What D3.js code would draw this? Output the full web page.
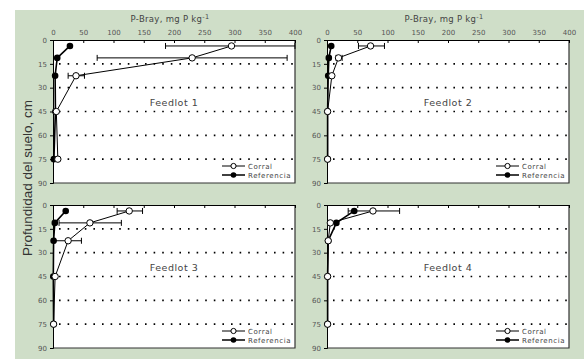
<!DOCTYPE html>
<html>
<head>
<meta charset="utf-8">
<script src="https://cdn.jsdelivr.net/npm/d3@7"></script>
<style>
  body { margin: 0; background: #fff; }
  svg { display: block; }
  text { font-family: "DejaVu Sans", Verdana, sans-serif; fill: #444; }
</style>
</head>
<body>
<svg id="chart"></svg>
<script>
// depths (cm) at centre of each sampled layer
const depths = [3.75, 11.25, 22.5, 45, 75];
const depthTicks = [0, 15, 30, 45, 60, 75, 90];
const pTicks = [0, 50, 100, 150, 200, 250, 300, 350, 400];
const feedlots = ["Feedlot 1", "Feedlot 2", "Feedlot 3", "Feedlot 4"];

// P-Bray, mg P/kg
const corral1 = [295, 230, 38, 5.5, 8];
const corralLo1 = [186, 73, 25, null, null];
const corralHi1 = [400, 387, 52, null, null];
const ref1 = [28, 7, 3.5, 4, 1.5];

const corral2 = [72, 19, 8, 1, 1];
const corralLo2 = [52, 15, null, null, null];
const corralHi2 = [95, 25, null, null, null];
const ref2 = [7, 3, 2, 1, 1];

const corral3 = [126, 61, 25, 3.5, 1];
const corralLo3 = [106, 10, 3, null, null];
const corralHi3 = [148, 113, 47, null, null];
const ref3 = [21, 3, 1, 0.5, 1];

const corral4 = [76, 5.5, 2, 1, 1];
const corralLo4 = [35, null, null, null, null];
const corralHi4 = [120, null, null, null, null];
const ref4 = [45, 15.5, 2, 1, 1];

const corralAll = [corral1, corral2, corral3, corral4];
const loAll = [corralLo1, corralLo2, corralLo3, corralLo4];
const hiAll = [corralHi1, corralHi2, corralHi3, corralHi4];
const refAll = [ref1, ref2, ref3, ref4];

const svgWidth = 584, svgHeight = 359;
const svg = d3.select('#chart').attr('width', svgWidth).attr('height', svgHeight);

// green frame
svg.append('rect').attr('x', 15).attr('y', 10)
   .attr('width', svgWidth - 15).attr('height', svgHeight - 10)
   .attr('fill', '#cfdec8');

const plotW = 242, plotH = 143;
const origins = [[53, 40], [327, 40], [53, 205], [327, 205]];

const xScale = d3.scaleLinear().domain([0, 400]).range([0, plotW]);
const yScale = d3.scaleLinear().domain([0, 90]).range([0, plotH]);

feedlots.forEach((name, i) => {
    const g = svg.append('g')
        .attr('transform', `translate(${origins[i][0]}, ${origins[i][1]})`);

    // plot background + shadowed border
    g.append('rect').attr('width', plotW).attr('height', plotH)
     .attr('fill', '#fff');
    g.append('path')
     .attr('d', `M${plotW},0V${plotH}H0`)
     .attr('fill', 'none').attr('stroke', '#333').attr('stroke-width', 1.2);

    // dotted gridlines
    g.selectAll('.grid')
     .data(depthTicks.filter(d => d > 0 && d < 90))
     .enter().append('line')
     .attr('x1', 6).attr('x2', plotW)
     .attr('y1', d => yScale(d)).attr('y2', d => yScale(d))
     .attr('stroke', '#000').attr('stroke-width', 1.6)
     .attr('stroke-dasharray', '1.6,7');

    // axes
    const top = g.append('g')
        .call(d3.axisTop(xScale).tickValues(pTicks).tickSize(-3).tickPadding(5)
              .tickFormat(i < 2 ? d3.format('d') : ''));
    top.select('.domain').attr('stroke', '#000');
    top.selectAll('line').attr('stroke', '#000');
    top.selectAll('text').style('font-size', '7px').style('fill', '#555');

    const left = g.append('g')
        .call(d3.axisLeft(yScale).tickValues(depthTicks).tickSize(3).tickPadding(3));
    left.select('.domain').attr('stroke', '#000');
    left.selectAll('line').attr('stroke', '#000');
    left.selectAll('text').style('font-size', '7px').style('fill', '#555');

    const line = d3.line()
        .x(d => xScale(d[0])).y(d => yScale(d[1]));

    // error bars (corral)
    const errs = depths.map((d, j) => [loAll[i][j], hiAll[i][j], d])
                       .filter(e => e[0] !== null);
    errs.forEach(e => {
        const yy = yScale(e[2]);
        g.append('line').attr('x1', xScale(e[0])).attr('x2', xScale(e[1]))
         .attr('y1', yy).attr('y2', yy).attr('stroke', '#000').attr('stroke-width', 1);
        [e[0], e[1]].forEach(v => {
            g.append('line').attr('x1', xScale(v)).attr('x2', xScale(v))
             .attr('y1', yy - 3).attr('y2', yy + 3).attr('stroke', '#000');
        });
    });

    // referencia
    const refPts = depths.map((d, j) => [refAll[i][j], d]);
    g.append('path').datum(refPts).attr('d', line)
     .attr('fill', 'none').attr('stroke', '#000').attr('stroke-width', 1.6);
    g.selectAll('.ref').data(refPts).enter().append('circle')
     .attr('cx', d => xScale(d[0])).attr('cy', d => yScale(d[1])).attr('r', 3.3)
     .attr('fill', '#000');

    // corral
    const corPts = depths.map((d, j) => [corralAll[i][j], d]);
    g.append('path').datum(corPts).attr('d', line)
     .attr('fill', 'none').attr('stroke', '#000').attr('stroke-width', 1);
    g.selectAll('.cor').data(corPts).enter().append('circle')
     .attr('cx', d => xScale(d[0])).attr('cy', d => yScale(d[1])).attr('r', 3.2)
     .attr('fill', '#fff').attr('stroke', '#000').attr('stroke-width', 1);

    // panel label
    g.append('text').attr('x', plotW / 2).attr('y', 66)
     .attr('text-anchor', 'middle').style('font-size', '9.5px')
     .style('letter-spacing', '0.5px').text(name);

    // legend
    const lg = g.append('g').attr('transform', `translate(${plotW - 73}, ${plotH - 17})`);
    lg.append('line').attr('x1', 0).attr('x2', 23).attr('y1', 0).attr('y2', 0)
      .attr('stroke', '#000');
    lg.append('circle').attr('cx', 11.5).attr('cy', 0).attr('r', 2.6)
      .attr('fill', '#fff').attr('stroke', '#000');
    lg.append('text').attr('x', 26).attr('y', 2.5).style('font-size', '7px')
      .style('letter-spacing', '0.6px').text('Corral');
    lg.append('line').attr('x1', 0).attr('x2', 23).attr('y1', 9).attr('y2', 9)
      .attr('stroke', '#000').attr('stroke-width', 1.5);
    lg.append('circle').attr('cx', 11.5).attr('cy', 9).attr('r', 2.8)
      .attr('fill', '#000');
    lg.append('text').attr('x', 26).attr('y', 11.5).style('font-size', '7px')
      .style('letter-spacing', '0.6px').text('Referencia');

    // x title on top panels
    if (i < 2) {
        const t = g.append('text').attr('x', plotW / 2 - 4).attr('y', -18)
            .attr('text-anchor', 'middle').style('font-size', '8.5px')
            .style('letter-spacing', '0.3px');
        t.append('tspan').text('P-Bray, mg P kg');
        t.append('tspan').attr('dy', -3).style('font-size', '6.5px').text('-1');
    }
});

// y title
svg.append('text')
   .attr('transform', 'translate(32, 178) rotate(-90)')
   .attr('text-anchor', 'middle')
   .style('font-family', '"Liberation Sans", Arial, sans-serif')
   .style('font-size', '13.5px').style('fill', '#333')
   .text('Profundidad del suelo, cm');
</script>
</body>
</html>
